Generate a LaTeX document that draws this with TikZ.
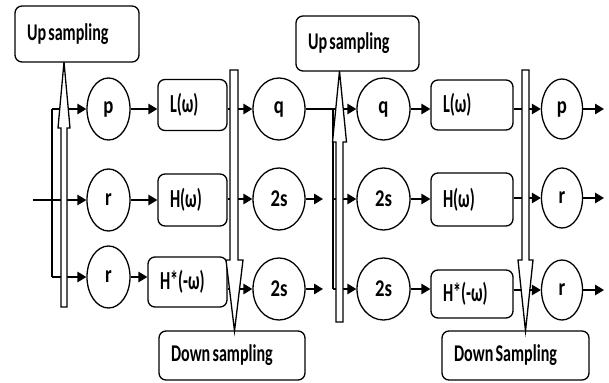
\documentclass[tikz,border=0pt]{standalone}
\usepackage{fontspec}
\usepackage{graphicx}
\setmainfont{Carlito}
\usetikzlibrary{arrows.meta,shapes.geometric}
\newcommand\Tb[1]{{\fontsize{26}{30}\selectfont\bfseries\scalebox{0.62}[1]{#1}}}
\newcommand\Tc[1]{{\fontsize{24}{28}\selectfont\bfseries\scalebox{0.78}[1]{#1}}}
\newcommand\Tl[1]{{\fontsize{24}{28}\selectfont\bfseries\scalebox{0.67}[1]{#1}}}
\begin{document}
\begin{tikzpicture}[x=1pt,y=-1pt,line width=1.3pt,
  >={Triangle[length=9pt,width=10.5pt]},
  rbox/.style={draw,rounded corners=7pt,align=left,inner xsep=12pt,inner ysep=0pt},
  circ/.style={draw,ellipse,inner sep=0pt},
  callout/.style={draw,fill=white,line join=miter}]
\useasboundingbox (0,0) rectangle (609,382);

% column A circles
\node[circ,minimum width=43pt,minimum height=62pt] (pA) at (108.5,109) {\Tc{p}};
\node[circ,minimum width=43pt,minimum height=62pt] (rA2) at (108.5,200) {\Tc{r}};
\node[circ,minimum width=43pt,minimum height=62pt] (rA3) at (108.5,277) {\Tc{r}};
% column B boxes
\node[rbox,text width=45pt,minimum height=51pt] (L1) at (192.5,105) {\Tb{L(ω)}};
\node[rbox,text width=45pt,minimum height=52pt] (H1) at (192.5,200) {\Tb{H(ω)}};
\node[rbox,text width=55pt,minimum height=50pt] (Hs1) at (187.5,282) {\Tb{H*(-ω)}};
% column C
\node[circ,minimum width=52pt,minimum height=62pt] (qC) at (279,109) {\Tc{q}};
\node[circ,minimum width=52pt,minimum height=62pt] (sC2) at (279,199) {\Tc{2s}};
\node[circ,minimum width=52pt,minimum height=62pt] (sC3) at (279,289) {\Tc{2s}};
% column D
\node[circ,minimum width=53pt,minimum height=62pt] (qD) at (383.5,109) {\Tc{q}};
\node[circ,minimum width=53pt,minimum height=62pt] (sD2) at (383.5,199) {\Tc{2s}};
\node[circ,minimum width=53pt,minimum height=62pt] (sD3) at (383.5,289) {\Tc{2s}};
% column E boxes
\node[rbox,text width=58pt,minimum height=50pt] (L2) at (472,105) {\Tb{L(ω)}};
\node[rbox,text width=58pt,minimum height=53pt] (H2) at (472,199.5) {\Tb{H(ω)}};
\node[rbox,text width=58pt,minimum height=48pt] (Hs2) at (472,294) {\Tb{H*(-ω)}};
% column F
\node[circ,minimum width=41pt,minimum height=60pt] (pF) at (562,109) {\Tc{p}};
\node[circ,minimum width=41pt,minimum height=60pt] (rF2) at (562,198) {\Tc{r}};
\node[circ,minimum width=41pt,minimum height=60pt] (rF3) at (562,290) {\Tc{r}};

% callout boxes
\node[rbox,text width=100pt,minimum height=56pt] (up1) at (77,34) {\Tl{Up sampling}};
\node[rbox,text width=99pt,minimum height=55pt] (up2) at (357.5,43.5) {\Tl{Up sampling}};
\node[rbox,text width=122pt,minimum height=49pt] (dn1) at (232,355.5) {\Tl{Down sampling}};
\node[rbox,text width=123pt,minimum height=49pt] (dn2) at (515.5,355.5) {\Tl{Down Sampling}};

% coordinates
\coordinate (in) at (33,200);
\coordinate (b1t) at (52,109);
\coordinate (b1b) at (52,277);
\coordinate (b2t) at (333,109);
\coordinate (b2m) at (333,199);
\coordinate (b2b) at (333,289);
\coordinate (e2) at (323,199);
\coordinate (e3) at (323,289);
\coordinate (o1) at (604,109);
\coordinate (o2) at (604,198);
\coordinate (o3) at (604,290);

% connectors
\draw[->] (in) -- (rA2);
\draw (b1t) -- (b1b);
\draw[->] (b1t) -- (pA);
\draw[->] (b1b) -- (rA3);
\draw[->] (pA) -- (pA -| L1.west);
\draw[->] (rA2) -- (rA2 -| H1.west);
\draw[->] (rA3) -- (rA3 -| Hs1.west);
\draw[->] (L1.east |- qC) -- (qC);
\draw[->] (H1.east |- sC2) -- (sC2);
\draw[->] (Hs1.east |- sC3) -- (sC3);
\draw (qC) -- (b2t) -- (b2b);
\draw[->] (sC2) -- (e2);
\draw[->] (sC3) -- (e3);
\draw[->] (b2t) -- (qD);
\draw[->] (b2m) -- (sD2);
\draw[->] (b2b) -- (sD3);
\draw[->] (qD) -- (qD -| L2.west);
\draw[->] (sD2) -- (sD2 -| H2.west);
\draw[->] (sD3) -- (sD3 -| Hs2.west);
\draw[->] (L2.east |- pF) -- (pF);
\draw[->] (H2.east |- rF2) -- (rF2);
\draw[->] (Hs2.east |- rF3) -- (rF3);
\draw[->] (pF) -- (o1);
\draw[->] (rF2) -- (o2);
\draw[->] (rF3) -- (o3);

% block arrows
\draw[callout] (61,307) -- (61,128) -- (58,128) -- (64,62) -- (70,128) -- (67,128) -- (67,307) -- cycle;
\draw[callout] (230,70) -- (230,260) -- (226,260) -- (234.5,331) -- (243,260) -- (238,260) -- (238,70) -- cycle;
\draw[callout] (336,322) -- (336,142) -- (332.5,142) -- (339.5,71) -- (346.5,142) -- (343,142) -- (343,322) -- cycle;
\draw[callout] (522,70) -- (522,260) -- (518,260) -- (525.5,331) -- (533,260) -- (529,260) -- (529,70) -- cycle;
\end{tikzpicture}
\end{document}
